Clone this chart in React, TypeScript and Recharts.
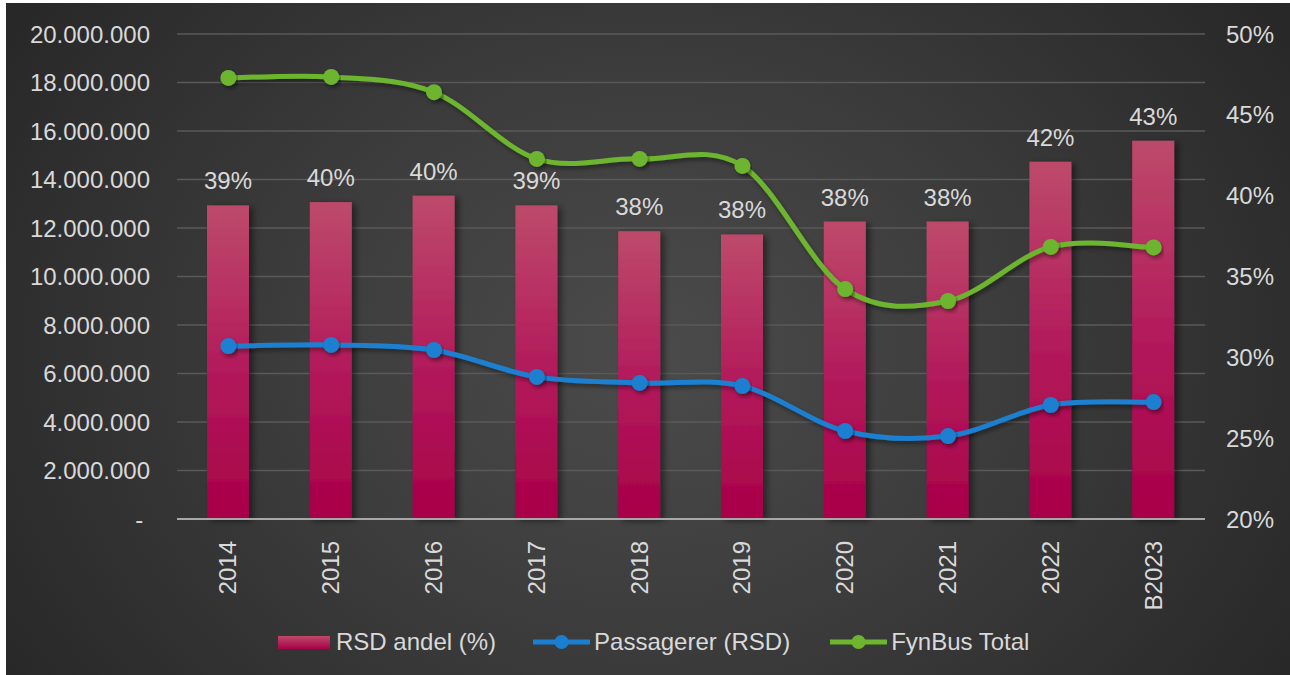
import React from 'react';
import { ComposedChart, Bar, Line, XAxis, YAxis, CartesianGrid, LabelList } from 'recharts';

const years = ['2014', '2015', '2016', '2017', '2018', '2019', '2020', '2021', '2022', 'B2023'];
const rsdShare = [39.4, 39.6, 40.0, 39.4, 37.8, 37.6, 38.4, 38.4, 42.1, 43.4];
const passengersRsd = [7130000, 7180000, 6970000, 5860000, 5610000, 5480000, 3630000, 3420000, 4700000, 4820000];
const fynbusTotal = [18190000, 18230000, 17600000, 14850000, 14850000, 14560000, 9480000, 8990000, 11220000, 11200000];
const leftTicks = [0, 2000000, 4000000, 6000000, 8000000, 10000000, 12000000, 14000000, 16000000, 18000000, 20000000];
const rightTicks = [20, 25, 30, 35, 40, 45, 50];

const data = years.map((year, i) => ({
  year,
  share: rsdShare[i],
  rsd: passengersRsd[i],
  total: fynbusTotal[i],
}));

const FONT = '"Liberation Sans", Arial, sans-serif';
const TEXT = '#d9d9d9';
const BLUE = '#1a7fd0';
const GREEN = '#6db52f';
const FS = 24;

// Excel style smoothing (catmull-rom with 1/6 control points)
const smoothCurve = (context: any) => {
  let pts: number[][] = [];
  return {
    areaStart() {},
    areaEnd() {},
    lineStart() {
      pts = [];
    },
    point(x: number, y: number) {
      pts.push([+x, +y]);
    },
    lineEnd() {
      if (!pts.length) return;
      context.moveTo(pts[0][0], pts[0][1]);
      for (let i = 0; i < pts.length - 1; i++) {
        const p0 = pts[i - 1] || pts[i];
        const p1 = pts[i];
        const p2 = pts[i + 1];
        const p3 = pts[i + 2] || p2;
        context.bezierCurveTo(
          p1[0] + (p2[0] - p0[0]) / 6,
          p1[1] + (p2[1] - p0[1]) / 6,
          p2[0] - (p3[0] - p1[0]) / 6,
          p2[1] - (p3[1] - p1[1]) / 6,
          p2[0],
          p2[1]
        );
      }
    },
  };
};

const fmtMillions = (v: number) =>
  v === 0 ? '-\u00A0' : String(v).replace(/\B(?=(\d{3})+(?!\d))/g, '.');

const YearTick = (props: any) => {
  const { x, y, payload } = props;
  return (
    <text
      x={x + 8}
      y={y + 14}
      transform={`rotate(-90, ${x + 8}, ${y + 14})`}
      textAnchor="end"
      fill={TEXT}
      fontSize={FS}
      fontFamily={FONT}
    >
      {payload.value}
    </text>
  );
};

const BarShape = (props: any) => {
  const { x, y, width, height } = props;
  if (!height || height <= 0) return null;
  return <rect x={x} y={y} width={width} height={height} fill="url(#barFill)" filter="url(#barShadow)" />;
};

const renderShareLabel = (props: any) => {
  const { x, y, width, value } = props;
  return (
    <text x={x + width / 2} y={y - 16} textAnchor="middle" fill={TEXT} fontSize={FS} fontFamily={FONT}>
      {Math.round(value)}%
    </text>
  );
};

export default function App() {
  return (
    <div style={{ position: 'absolute', left: 0, top: 0, width: 1290, height: 675, background: '#fff', overflow: 'hidden' }}>
      <div
        style={{
          position: 'absolute',
          left: 6,
          top: 3,
          width: 1284,
          height: 672,
          background: 'radial-gradient(ellipse 62% 95% at 50% 52%, #4b4b4b 0%, #3c3c3c 45%, #262626 100%)',
        }}
      >
        <ComposedChart width={1284} height={672} data={data} margin={{ top: 31, right: 0, bottom: 0, left: 0 }}>
          <defs>
            <linearGradient id="barFill" x1="0" y1="0" x2="0" y2="1">
              <stop offset="0%" stopColor="#bd4a6b" />
              <stop offset="55%" stopColor="#b2185a" />
              <stop offset="100%" stopColor="#a80048" />
            </linearGradient>
            <filter id="barShadow" x="-30%" y="-10%" width="170%" height="130%">
              <feDropShadow dx="4" dy="2" stdDeviation="3" floodColor="#000" floodOpacity="0.45" />
            </filter>
            <filter id="lineShadow" x="-10%" y="-30%" width="120%" height="160%">
              <feDropShadow dx="2" dy="3" stdDeviation="2" floodColor="#000" floodOpacity="0.4" />
            </filter>
          </defs>
          <CartesianGrid yAxisId="left" vertical={false} stroke="#5a5a5a" strokeWidth={1.5} />
          <XAxis
            dataKey="year"
            height={156}
            interval={0}
            tickLine={false}
            axisLine={{ stroke: '#a8a8a8', strokeWidth: 2 }}
            tick={<YearTick />}
          />
          <YAxis
            yAxisId="left"
            width={171}
            domain={[0, 20000000]}
            ticks={leftTicks}
            tickFormatter={fmtMillions}
            axisLine={false}
            tickLine={false}
            tickSize={0}
            tickMargin={27}
            tick={{ fill: TEXT, fontSize: FS, fontFamily: FONT }}
          />
          <YAxis
            yAxisId="right"
            orientation="right"
            width={85}
            domain={[20, 50]}
            ticks={rightTicks}
            tickFormatter={(v: number) => `${v}%`}
            axisLine={false}
            tickLine={false}
            tickSize={0}
            tickMargin={21}
            tick={{ fill: TEXT, fontSize: FS, fontFamily: FONT, textAnchor: 'start' }}
          />
          <Bar yAxisId="right" dataKey="share" name="RSD andel (%)" barSize={42} shape={<BarShape />} isAnimationActive={false}>
            <LabelList dataKey="share" content={renderShareLabel} />
          </Bar>
          <Line
            yAxisId="left"
            dataKey="rsd"
            name="Passagerer (RSD)"
            type={smoothCurve as any}
            stroke={BLUE}
            strokeWidth={5}
            filter="url(#lineShadow)"
            dot={{ r: 8, fill: BLUE, stroke: 'none', strokeWidth: 0 }}
            activeDot={false}
            isAnimationActive={false}
          />
          <Line
            yAxisId="left"
            dataKey="total"
            name="FynBus Total"
            type={smoothCurve as any}
            stroke={GREEN}
            strokeWidth={5}
            filter="url(#lineShadow)"
            dot={{ r: 8, fill: GREEN, stroke: 'none', strokeWidth: 0 }}
            activeDot={false}
            isAnimationActive={false}
          />
        </ComposedChart>
        <div
          style={{
            position: 'absolute',
            left: 272,
            top: 625,
            display: 'flex',
            alignItems: 'center',
            fontFamily: FONT,
            fontSize: FS,
            color: TEXT,
            whiteSpace: 'nowrap',
          }}
        >
          <span style={{ display: 'inline-block', width: 52, height: 13, background: 'linear-gradient(#bd4a6b, #a80048)', marginRight: 6 }} />
          <span style={{ marginRight: 37 }}>RSD andel (%)</span>
          <svg width={57} height={20} style={{ marginRight: 4 }}>
            <line x1={0} y1={10} x2={57} y2={10} stroke={BLUE} strokeWidth={5} />
            <circle cx={28.5} cy={10} r={7} fill={BLUE} />
          </svg>
          <span style={{ marginRight: 40 }}>Passagerer (RSD)</span>
          <svg width={57} height={20} style={{ marginRight: 4 }}>
            <line x1={0} y1={10} x2={57} y2={10} stroke={GREEN} strokeWidth={5} />
            <circle cx={28.5} cy={10} r={7} fill={GREEN} />
          </svg>
          <span>FynBus Total</span>
        </div>
      </div>
    </div>
  );
}
